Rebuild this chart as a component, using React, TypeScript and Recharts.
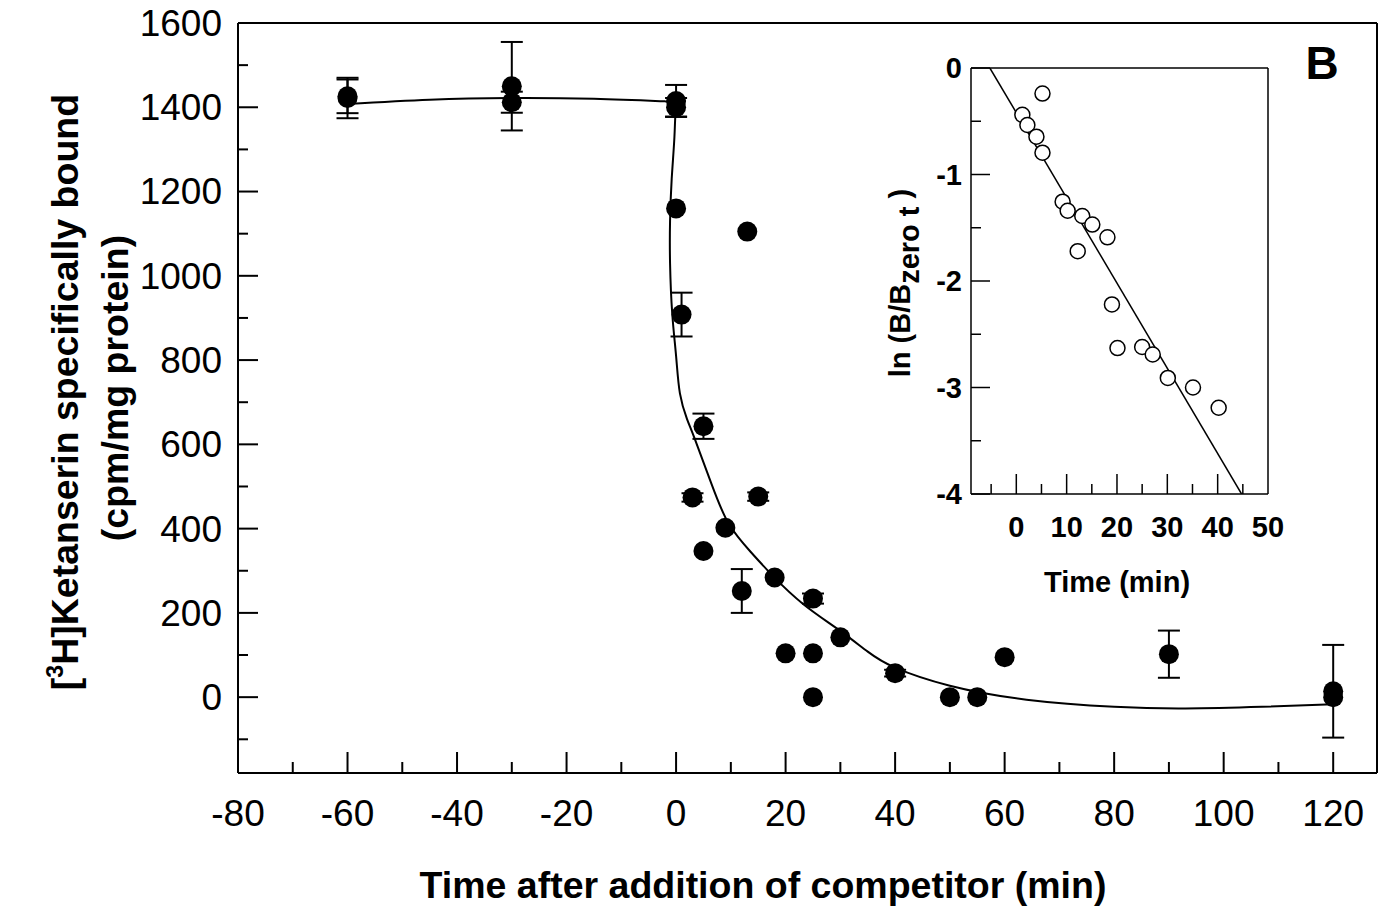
import React from "react";
import { ScatterChart, Scatter, XAxis, YAxis, ErrorBar, ReferenceLine, Label } from "recharts";

const FONT = "'Liberation Sans', Arial, Helvetica, sans-serif";

// main panel: specific binding after competitor added (min, cpm/mg protein)
const mainTimes = [-60, -60, -30, -30, 0, 0, 0, 1, 3, 5, 5, 9, 12, 13, 15, 18, 20, 25, 25, 25, 30, 40, 50, 55, 60, 90, 120, 120];
const mainValues = [1422, 1426, 1450, 1412, 1415, 1400, 1160, 908, 474, 643, 347, 402, 252, 1105, 476, 284, 104, 234, 104, 0, 142, 57, 0, 0, 95, 102, 14, 0];
const mainErrors = [48, 40, 105, 25, 38, 22, 0, 52, 10, 30, 0, 0, 52, 0, 10, 0, 0, 12, 0, 0, 0, 8, 0, 0, 0, 56, 110, 0];

// fitted curve
const fitTimes = [-60, -45, -30, -15, -2, 0, -0.3, -0.8, -1.1, -1.1, -0.7, 0, 0.7, 2, 3.5, 6.5, 9.6, 13.6, 17.8, 23.3, 29.9, 35, 40, 50, 64, 80, 93, 107, 120];
const fitValues = [1408, 1418, 1422, 1420, 1414, 1400, 1330, 1230, 1130, 1030, 910, 810, 721, 660, 610, 505, 412, 345, 286, 220, 158, 108, 70, 27, -6, -23, -27, -23, -17];

const mainXTicks = [-80, -70, -60, -50, -40, -30, -20, -10, 0, 10, 20, 30, 40, 50, 60, 70, 80, 90, 100, 110, 120];
const mainYTicks = [-100, 0, 100, 200, 300, 400, 500, 600, 700, 800, 900, 1000, 1100, 1200, 1300, 1400, 1500, 1600];

// inset: ln(B/B0) vs time
const insetTimes = [1.2, 2.2, 4.0, 5.2, 5.2, 9.2, 10.2, 12.2, 13.1, 15.1, 18.1, 19.0, 20.1, 25.0, 27.1, 30.1, 35.1, 40.2];
const insetValues = [-0.44, -0.535, -0.645, -0.795, -0.24, -1.255, -1.34, -1.72, -1.39, -1.47, -1.59, -2.22, -2.63, -2.62, -2.69, -2.91, -3.0, -3.19];
const regTimes = [-5.25, 44.75];
const regValues = [0, -4];

const insetXTicks = [-5, 0, 5, 10, 15, 20, 25, 30, 35, 40, 45, 50];
const insetYTicks = [-4, -3.5, -3, -2.5, -2, -1.5, -1, -0.5, 0];

const mainPoints = mainTimes.map((t, i) => ({ t, v: mainValues[i], err: mainErrors[i] }));
const errPoints = mainPoints.filter((p) => p.err > 0);
const plainPoints = mainPoints.filter((p) => p.err === 0);
const fitData = fitTimes.map((t, i) => ({ t, v: fitValues[i] }));
const insetData = insetTimes.map((t, i) => ({ t, v: insetValues[i] }));
const regData = regTimes.map((t, i) => ({ t, v: regValues[i] }));

const FilledDot = (p: any) => <circle cx={p.cx} cy={p.cy} r={10} fill="#000" />;
const OpenDot = (p: any) => <circle cx={p.cx} cy={p.cy} r={7.5} fill="#fff" stroke="#000" strokeWidth={1.5} />;
const NoDot = () => <g />;

function MainXTick({ x, y, payload }: any) {
  const v = payload.value;
  const major = v % 20 === 0;
  return (
    <g>
      <line x1={x} y1={y} x2={x} y2={y - (major ? 21 : 11)} stroke="#000" strokeWidth={2} />
      {major && (
        <text x={x} y={y + 40} dy="0.35em" textAnchor="middle" fontSize={37} fontFamily={FONT} fill="#000">
          {v}
        </text>
      )}
    </g>
  );
}

function MainYTick({ x, y, payload }: any) {
  const v = payload.value;
  const major = v % 200 === 0;
  return (
    <g>
      <line x1={x} y1={y} x2={x + (major ? 20 : 10)} y2={y} stroke="#000" strokeWidth={2} />
      {major && (
        <text x={x - 16} y={y} dy="0.35em" textAnchor="end" fontSize={37} fontFamily={FONT} fill="#000">
          {v}
        </text>
      )}
    </g>
  );
}

function InsetXTick({ x, y, payload }: any) {
  const v = payload.value;
  const major = v % 10 === 0;
  return (
    <g>
      {v < 50 && <line x1={x} y1={y} x2={x} y2={y - (major ? 20 : 10)} stroke="#000" strokeWidth={1.5} />}
      {major && v >= 0 && (
        <text x={x} y={y + 33} dy="0.35em" textAnchor="middle" fontSize={29} fontWeight="bold" fontFamily={FONT} fill="#000">
          {v}
        </text>
      )}
    </g>
  );
}

function InsetYTick({ x, y, payload }: any) {
  const v = payload.value;
  const major = Number.isInteger(v);
  return (
    <g>
      <line x1={x} y1={y} x2={x + (major ? 19 : 10)} y2={y} stroke="#000" strokeWidth={1.5} />
      {major && (
        <text x={x - 9} y={y} dy="0.35em" textAnchor="end" fontSize={29} fontWeight="bold" fontFamily={FONT} fill="#000">
          {v}
        </text>
      )}
    </g>
  );
}

const MainTitles = () => (
  <g fontFamily={FONT} fontWeight="bold" fill="#000">
    <text x={763} y={885} dy="0.35em" textAnchor="middle" fontSize={37.5}>
      Time after addition of competitor (min)
    </text>
    <text transform="translate(65 392) rotate(-90)" dy="0.35em" textAnchor="middle" fontSize={37.5}>
      [<tspan fontSize={23} dy={-15}>3</tspan>
      <tspan dy={15}>H]Ketanserin specifically bound</tspan>
    </text>
    <text transform="translate(115 388) rotate(-90)" dy="0.35em" textAnchor="middle" fontSize={37.5}>
      (cpm/mg protein)
    </text>
    <text x={1322} y={63} dy="0.35em" textAnchor="middle" fontSize={46}>
      B
    </text>
  </g>
);

const InsetTitles = () => (
  <g fontFamily={FONT} fontWeight="bold" fill="#000">
    <text x={237} y={542} dy="0.35em" textAnchor="middle" fontSize={29}>
      Time (min)
    </text>
    <text transform="translate(20 243) rotate(-90)" dy="0.35em" textAnchor="middle" fontSize={29}>
      ln (B/B<tspan dy={9}>zero t</tspan>
      <tspan dy={-9}>{"\u00A0)"}</tspan>
    </text>
  </g>
);

export default function App() {
  return (
    <div style={{ position: "absolute", left: 0, top: 0, width: 1390, height: 907, background: "#fff" }}>
      <ScatterChart width={1390} height={907} margin={{ top: 23, right: 13, left: 0, bottom: 0 }}>
        <XAxis
          type="number"
          dataKey="t"
          domain={[-80, 128]}
          allowDataOverflow
          ticks={mainXTicks}
          interval={0}
          height={134}
          tickSize={0}
          tickMargin={0}
          tick={<MainXTick />}
          axisLine={{ stroke: "#000", strokeWidth: 2 }}
        >
          <Label content={MainTitles} />
        </XAxis>
        <YAxis
          type="number"
          dataKey="v"
          domain={[-180, 1600]}
          allowDataOverflow
          ticks={mainYTicks}
          interval={0}
          width={238}
          tickSize={0}
          tickMargin={0}
          tick={<MainYTick />}
          axisLine={{ stroke: "#000", strokeWidth: 2 }}
        />
        <ReferenceLine y={1600} stroke="#000" strokeWidth={2} />
        <ReferenceLine x={128} stroke="#000" strokeWidth={2} />
        <Scatter
          data={fitData}
          line={{ stroke: "#000", strokeWidth: 2 }}
          lineJointType="natural"
          shape={NoDot}
          isAnimationActive={false}
        />
        <Scatter data={errPoints} shape={FilledDot} isAnimationActive={false}>
          <ErrorBar dataKey="err" direction="y" width={11} stroke="#000" strokeWidth={2} isAnimationActive={false} />
        </Scatter>
        <Scatter data={plainPoints} shape={FilledDot} isAnimationActive={false} />
      </ScatterChart>

      <div style={{ position: "absolute", left: 880, top: 40 }}>
        <ScatterChart width={420} height={590} margin={{ top: 28, right: 32, left: 0, bottom: 0 }}>
          <XAxis
            type="number"
            dataKey="t"
            domain={[-9, 50]}
            allowDataOverflow
            ticks={insetXTicks}
            interval={0}
            height={136}
            tickSize={0}
            tickMargin={0}
            tick={<InsetXTick />}
            axisLine={{ stroke: "#000", strokeWidth: 1.5 }}
          >
            <Label content={InsetTitles} />
          </XAxis>
          <YAxis
            type="number"
            dataKey="v"
            domain={[-4, 0]}
            allowDataOverflow
            ticks={insetYTicks}
            interval={0}
            width={91}
            tickSize={0}
            tickMargin={0}
            tick={<InsetYTick />}
            axisLine={{ stroke: "#000", strokeWidth: 1.5 }}
          />
          <ReferenceLine y={0} stroke="#000" strokeWidth={1.5} />
          <ReferenceLine x={50} stroke="#000" strokeWidth={1.5} />
          <Scatter
            data={regData}
            line={{ stroke: "#000", strokeWidth: 1.5 }}
            lineJointType="linear"
            shape={NoDot}
            isAnimationActive={false}
          />
          <Scatter data={insetData} shape={OpenDot} isAnimationActive={false} />
        </ScatterChart>
      </div>
    </div>
  );
}
